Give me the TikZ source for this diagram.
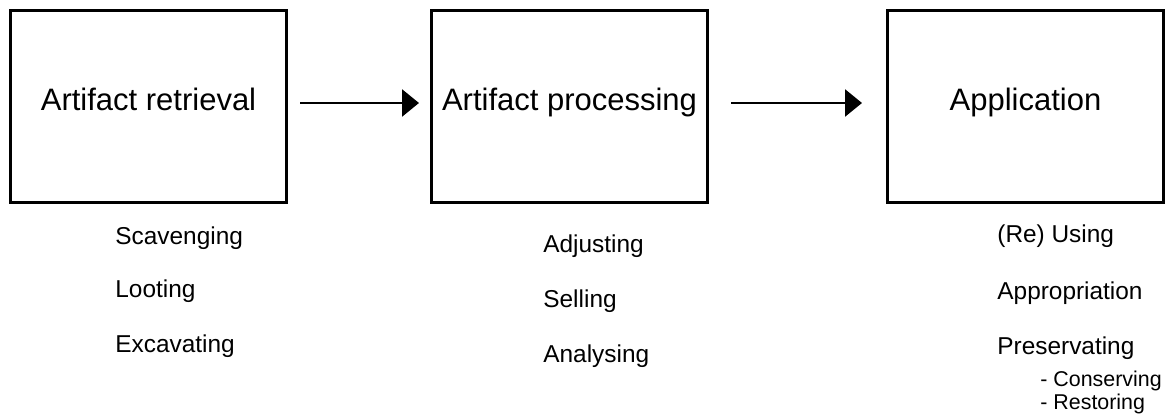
\documentclass[tikz,border=0pt]{standalone}
\usepackage{fontspec}
\setmainfont{Liberation Sans}
\usepackage{tikz}
\usetikzlibrary{arrows.meta}
\tikzset{stage/.style={draw,line width=1.5pt,minimum width=138pt,minimum height=96pt,inner sep=0pt,font=\fontsize{15.5}{15.5}\selectfont,text height=0.7em,text depth=0.34em}}
\tikzset{act/.style={anchor=west,inner sep=0pt,font=\fontsize{12.2}{12.2}\selectfont}}
\tikzset{sub/.style={anchor=west,inner sep=0pt,font=\fontsize{10.7}{10.7}\selectfont}}
\tikzset{flow/.style={line width=1.3pt,-{Triangle[length=8.5pt,width=13.5pt]}}}

\begin{document}
\begin{tikzpicture}[x=0.5pt,y=-0.5pt]
  \useasboundingbox (0,0) rectangle (1171,416);
  \node[stage] (retrieval) at (148.5,106.5) {Artifact retrieval};
  \node[stage] (processing) at (569.5,106.5) {Artifact processing};
  \node[stage] (application) at (1025.5,106.5) {Application};
  \draw[flow] ([shift={(12,-3.5)}]retrieval.east) -- ([shift={(-11,-3.5)}]processing.west);
  \draw[flow] ([shift={(22,-3.5)}]processing.east) -- ([shift={(-24,-3.5)}]application.west);
  % activities under each stage
  \node[act] (scav) at (115,238) {Scavenging};
  \node[act] (loot) at (115,291) {Looting};
  \node[act] (exca) at (115,346) {Excavating};
  \node[act] (adju) at (543,246) {Adjusting};
  \node[act] (sell) at (543,301) {Selling};
  \node[act] (anal) at (543,356) {Analysing};
  \node[act] (reuse) at (997,236) {(Re) Using};
  \node[act] (appr) at (997,293) {Appropriation};
  \node[act] (pres) at (997,348) {Preservating};
  \node[sub] (cons) at (1040,381) {- Conserving};
  \node[sub] (rest) at (1040,404) {- Restoring};
\end{tikzpicture}
\end{document}
